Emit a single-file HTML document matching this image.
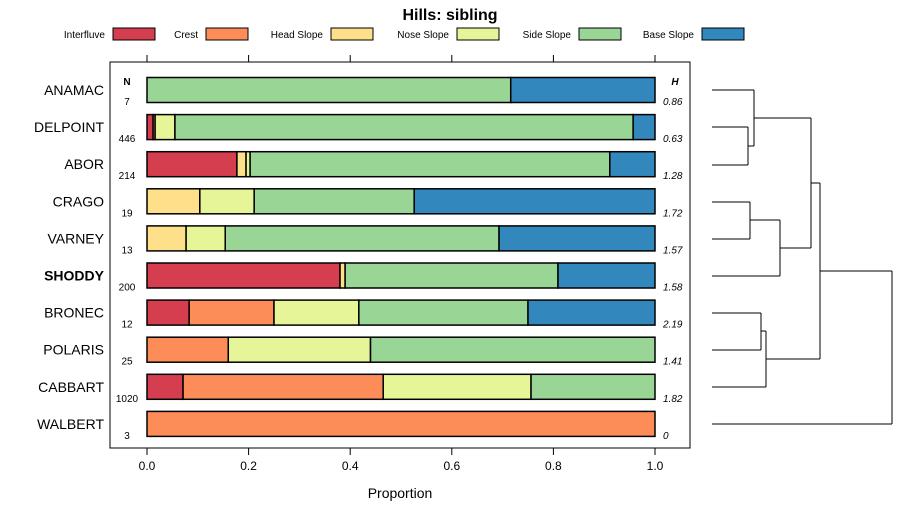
<!DOCTYPE html>
<html><head><meta charset="utf-8"><style>
body{margin:0;background:#fff;}
svg{font-family:"Liberation Sans",sans-serif;}
</style></head><body>
<svg id="c" width="900" height="520" xmlns="http://www.w3.org/2000/svg">
<text x="450" y="20" text-anchor="middle" font-size="16" font-weight="bold">Hills: sibling</text>
<g id="legend"></g>
<rect x="110" y="62" width="580" height="386" fill="none" stroke="#000"/>
<g id="bars"></g>
<g id="axes"></g>
<g id="dendro"></g>
<text x="400" y="498" text-anchor="middle" font-size="14">Proportion</text>
</svg>
<script>
const classes=["Interfluve","Crest","Head Slope","Nose Slope","Side Slope","Base Slope"];
const colors=["#d53e4f","#fc8d59","#fee08b","#e6f598","#99d594","#3288bd"];
const series=["ANAMAC","DELPOINT","ABOR","CRAGO","VARNEY","SHODDY","BRONEC","POLARIS","CABBART","WALBERT"];
const nVals=["7","446","214","19","13","200","12","25","1020","3"];
const hVals=["0.86","0.63","1.28","1.72","1.57","1.58","2.19","1.41","1.82","0"];
const props=[
[0,0,0,0,0.716,0.284],
[0.012,0.004,0,0.039,0.902,0.043],
[0.177,0,0.018,0.008,0.708,0.089],
[0,0,0.104,0.107,0.315,0.474],
[0,0,0.077,0.077,0.539,0.307],
[0.38,0,0.01,0,0.419,0.191],
[0.083,0.167,0,0.167,0.333,0.25],
[0,0.16,0,0.28,0.56,0],
[0.071,0.394,0,0.291,0.244,0],
[0,1,0,0,0,0]];
const ticks=[0,0.2,0.4,0.6,0.8,1.0];
const tickLabels=["0.0","0.2","0.4","0.6","0.8","1.0"];
const legendX=[113,206,331,457,579,702];
const NS="http://www.w3.org/2000/svg";
function mk(t,a,p,txt){const e=document.createElementNS(NS,t);for(const k in a)e.setAttribute(k,a[k]);if(txt!==undefined)e.textContent=txt;p.appendChild(e);return e;}
const xS=v=>147+v*508;
const yS=i=>90+i*37.1;
const lg=document.getElementById('legend');
classes.forEach((c,i)=>{
 const t=mk('text',{x:legendX[i]-8,y:38,'text-anchor':'end','font-size':10},lg,c);
 
 
 const r=mk('rect',{x:legendX[i],y:28,width:42,height:12,fill:colors[i],stroke:'#000'},lg);
 
 
});
const bg=document.getElementById('bars');
series.forEach((s,i)=>{
 const y=yS(i);
 const l=mk('text',{x:104,y:y+5,'text-anchor':'end','font-size':14,'font-weight':s==='SHODDY'?'bold':'normal'},bg,s);
 
 
 const n=mk('text',{x:127,y:y+15,'text-anchor':'middle','font-size':10},bg,nVals[i]);
 
 
 const h=mk('text',{x:663,y:y+15,'font-size':10,'font-style':'italic'},bg,hVals[i]);
 
 
 let cum=0;
 props[i].forEach((p,j)=>{
  if(p<=0)return;
  const r=mk('rect',{x:xS(cum),y:y-12.5,width:xS(cum+p)-xS(cum),height:25,fill:colors[j],stroke:'#000','stroke-width':1.5},bg);
  
  
  cum+=p;
 });
});
const nh=mk('text',{x:127,y:85,'text-anchor':'middle','font-size':10,'font-weight':'bold'},bg,'N');


const hh=mk('text',{x:675,y:85,'text-anchor':'middle','font-size':10,'font-weight':'bold','font-style':'italic'},bg,'H');


const ax=document.getElementById('axes');
ticks.forEach((t,i)=>{
 mk('line',{x1:xS(t),x2:xS(t),y1:448,y2:455,stroke:'#000'},ax);
 mk('line',{x1:xS(t),x2:xS(t),y1:55,y2:62,stroke:'#000'},ax);
 const tl=mk('text',{x:xS(t),y:470,'text-anchor':'middle','font-size':12},ax,tickLabels[i]);
 
 
});
const dg=document.getElementById('dendro');
const segs=[
[712,90,754,90],[754,90,754,146],[712,127,748,127],[712,165,748,165],[748,127,748,165],[748,146,754,146],
[712,202,750,202],[712,239,750,239],[750,202,750,239],[750,220,780,220],[712,276,780,276],[780,220,780,276],
[754,118,811,118],[780,248,811,248],[811,118,811,248],
[712,313,761,313],[712,350,761,350],[761,313,761,350],[761,331,766,331],[712,387,766,387],[766,331,766,387],
[811,183,820,183],[766,359,820,359],[820,183,820,359],
[820,271,892,271],[712,424,892,424],[892,271,892,424]];
segs.forEach(s=>{
 const l=mk('line',{x1:s[0],y1:s[1],x2:s[2],y2:s[3],stroke:'#000','stroke-width':1},dg);
 
 
});
</script>
</body></html>
